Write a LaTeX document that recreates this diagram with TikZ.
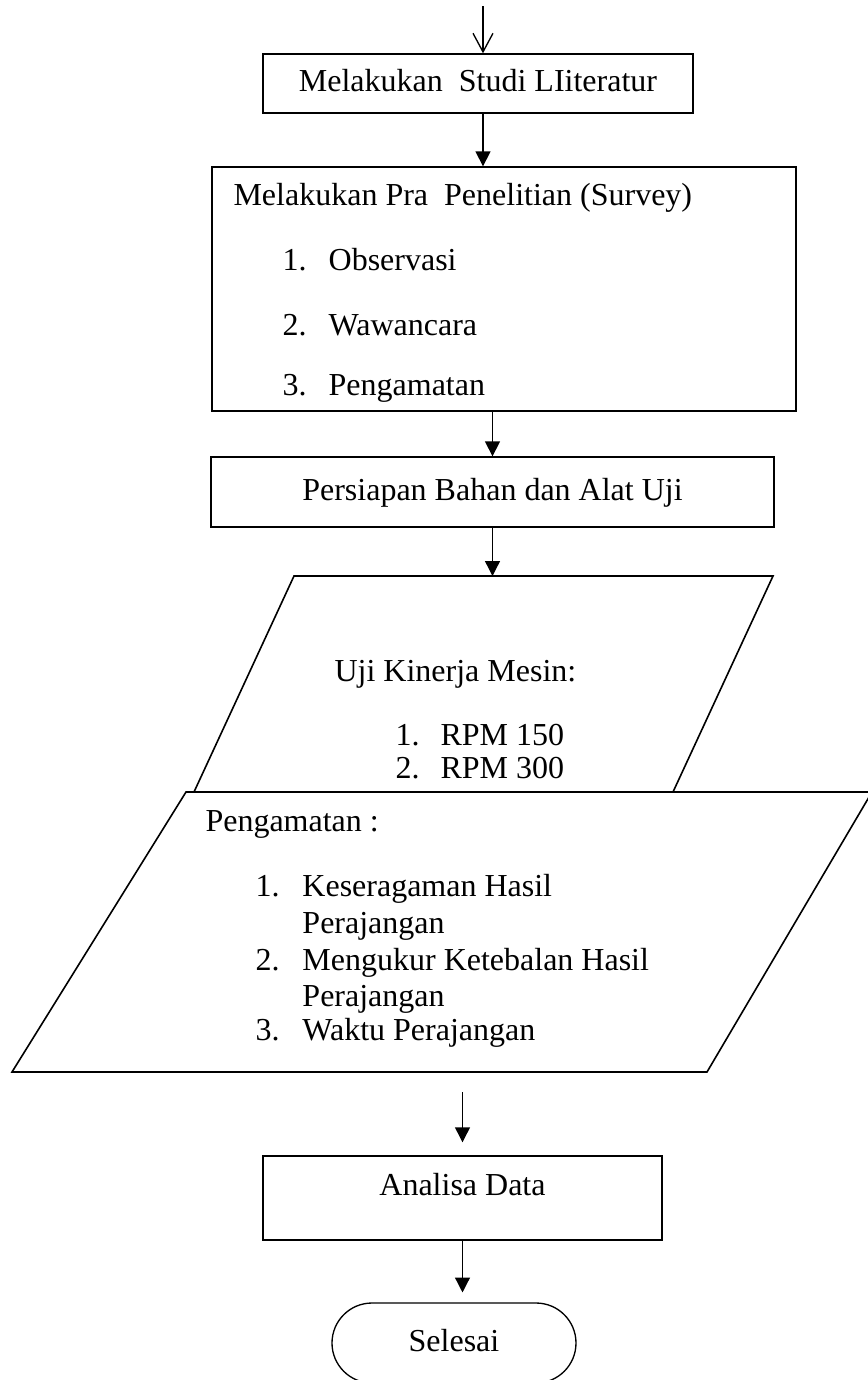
\documentclass[tikz,border=0pt]{standalone}
\usepackage{fontspec}
\setmainfont{Liberation Serif}
\usepackage{tikz}
\usetikzlibrary{%
	arrows.meta,
	shapes.misc,% wg. rounded rectangle
	positioning,
	calc
}
\def\unit{0.375pt}
\tikzstyle{process} = [rectangle, draw, line width=0.5pt, inner sep=0pt, font=\fontsize{12}{14}\selectfont, text height=8pt, text depth=2pt]
\tikzstyle{io} = [draw, line width=0.6pt, line join=miter]
\tikzstyle{term} = [rounded rectangle, draw, line width=0.5pt, inner sep=0pt, font=\fontsize{12}{14}\selectfont, text height=8pt, text depth=2pt]
\tikzstyle{txt} = [anchor=west, inner sep=0pt, font=\fontsize{12}{14}\selectfont, text height=8pt, text depth=2pt]
\tikzstyle{line} = [draw, line width=0.5pt, -{Triangle[length=5.6pt,width=5.6pt]}]
\tikzstyle{openline} = [draw, line width=0.5pt, -{Straight Barb[length=7pt,width=7.5pt]}]

\begin{document}
\begin{tikzpicture}[x=\unit, y=-\unit]
		\useasboundingbox (0,0) rectangle (868,1380);
		
		% First we draw the boxes
		\node[process, minimum width=430*\unit, minimum height=59*\unit] (lit) at (478,83.5) {Melakukan\ \ Studi LIiteratur};
		\node[process, minimum width=584*\unit, minimum height=244*\unit] (pra) at (504,289) {};
		\node[process, minimum width=563*\unit, minimum height=70*\unit] (prep) at (492.5,492) {Persiapan Bahan dan Alat Uji};
		\node[process, minimum width=399*\unit, minimum height=84*\unit, text depth=10.2pt] (ana) at (462.5,1198) {Analisa Data};
		\node[term, minimum width=244*\unit, minimum height=80*\unit] (sel) at (454,1343) {Selesai};
		
		% Then the two input/output parallelograms
		\foreach \x/\y/\name in {294/576/uji1, 773/576/uji2, 673/792/uji3, 194/792/uji4,
			186/792/obs1, 872/792/obs2, 707/1072/obs3, 12/1072/obs4}
		\coordinate (\name) at (\x,\y);
		\path[io] (uji1) -- (uji2) -- (uji3) -- (uji4) -- cycle;
		\path[io] (obs1) -- (obs2) -- (obs3) -- (obs4) -- cycle;
		\coordinate (ujiIn) at ($(uji1)!0.5!(uji2)$);
		\coordinate (obsOut) at ($(obs3)!0.5!(obs4)$);
		
		% Texts inside the boxes
		\node[txt] (praT) at (233,197) {Melakukan Pra\ \ Penelitian (Survey)};
		\foreach \y/\n/\name in {262/1/Observasi, 327/2/Wawancara, 387/3/Pengamatan}
		\node[txt] (pra\n) at (282,\y) {\makebox[17.3pt][l]{\n.}\name};
		
		\node[txt] (ujiT) at (334,673) {Uji Kinerja Mesin:};
		\foreach \y/\n/\name in {737/1/RPM 150, 770/2/RPM 300}
		\node[txt] (ujiI\n) at (395,\y) {\makebox[16.9pt][l]{\n.}\name};
		
		\node[txt] (obsT) at (205,823) {Pengamatan :};
		\foreach \y/\n/\num/\name in {888/1/1./Keseragaman Hasil, 925/2//Perajangan, 962/3/2./Mengukur Ketebalan Hasil, 998/4//Perajangan, 1032/5/3./Waktu Perajangan}
		\node[txt] (obsI\n) at (255,\y) {\makebox[17.6pt][l]{\num}\name};
		
		% Connect boxes with arrows
		\coordinate (start) at (483,6);
		\path[openline] (start) -- (start |- lit.north);
		\path[line] (lit.south -| start) -- (pra.north -| start);
		\path[line] (pra.south -| prep.north) -- (prep.north);
		\path[line] (prep.south) -- (prep.south |- ujiIn);
		\path[line, shorten <=7.5pt, shorten >=4.9pt] (obsOut -| ana.north) -- (ana.north);
		\path[line, shorten >=3.7pt] (ana.south) -- (ana.south |- sel.north);
		
\end{tikzpicture}
\end{document}
